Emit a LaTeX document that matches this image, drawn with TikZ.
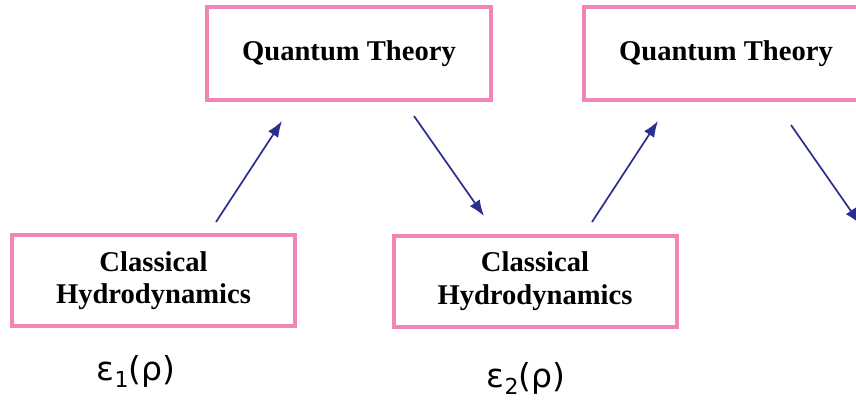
\documentclass[tikz,border=0pt]{standalone}
\usepackage{fontspec}
\setmainfont{Liberation Serif}
\newfontfamily\labfont{DejaVu Sans}
\usetikzlibrary{arrows.meta}
\definecolor{boxpink}{HTML}{F086B6}
\definecolor{arrnavy}{HTML}{2A2E8C}
\begin{document}
\begin{tikzpicture}[x=1pt,y=-1pt,
  theorybox/.style={draw=boxpink,line width=4pt,fill=white,minimum width=284pt,minimum height=93pt,
    font=\fontsize{28.6}{32}\selectfont\bfseries,align=center,inner sep=0pt},
  hydrobox/.style={draw=boxpink,line width=4pt,fill=white,minimum width=283pt,minimum height=91pt,
    font=\fontsize{28.6}{32.5}\selectfont\bfseries,align=center,inner sep=0pt},
  flow/.style={draw=arrnavy,line width=1.7pt,-{Latex[length=16pt,width=12pt]}},
  lab/.style={font=\labfont\fontsize{33}{36}\selectfont,anchor=base,inner sep=0pt}]
\useasboundingbox (0,0) rectangle (856,405);
\clip (0,0) rectangle (856,405);
\node[theorybox] (q1) at (349,53.5) {Quantum Theory};
\node[theorybox] (q2) at (726,53.5) {Quantum Theory};
\node[hydrobox] (c1) at (153.5,280.5) {Classical\\Hydrodynamics};
\node[hydrobox] (c2) at (535,281) {Classical\\Hydrodynamics};
\node[lab] (e1) at (136,380) {ε\raisebox{-0.22em}{\fontsize{22}{24}\selectfont 1}(ρ)};
\node[lab] (e2) at (526,387) {ε\raisebox{-0.22em}{\fontsize{22}{24}\selectfont 2}(ρ)};
\coordinate (a1s) at (216,222);
\coordinate (a1e) at (282,121);
\coordinate (a2s) at (414,116);
\coordinate (a2e) at (484,216);
\coordinate (a3s) at (592,222);
\coordinate (a3e) at (658,121);
\coordinate (a4s) at (791,125);
\coordinate (a4e) at (860,224);
\draw[flow] (a1s) -- (a1e);
\draw[flow] (a2s) -- (a2e);
\draw[flow] (a3s) -- (a3e);
\draw[flow] (a4s) -- (a4e);
\end{tikzpicture}
\end{document}
